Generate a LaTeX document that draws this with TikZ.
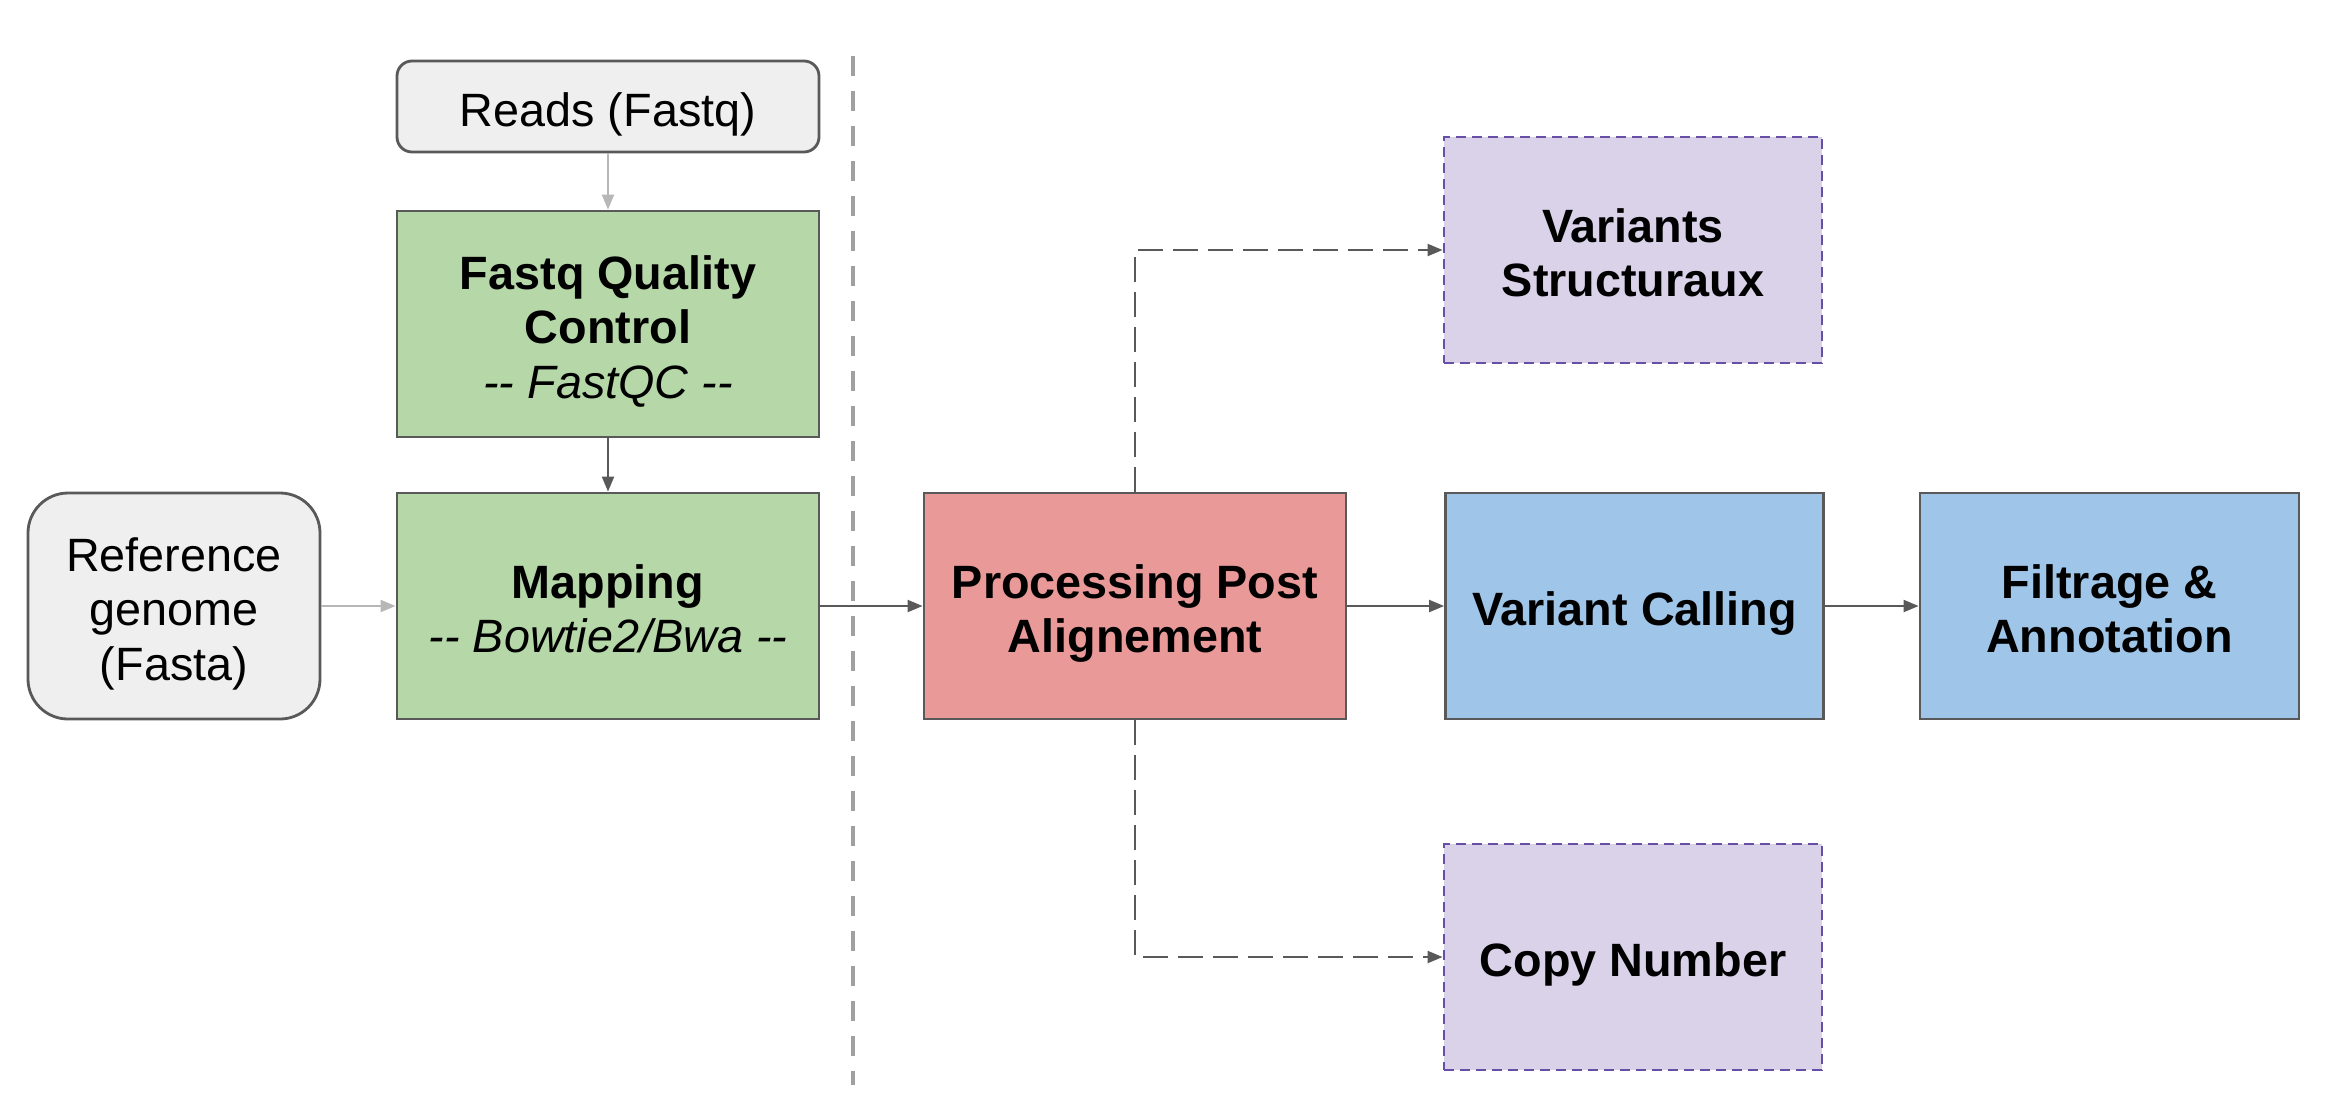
\documentclass[tikz,border=0pt]{standalone}
\usepackage{fontspec}
\setmainfont{Liberation Sans}
\usepackage{xcolor}
\usetikzlibrary{arrows.meta}

\definecolor{boxline}{HTML}{595959}
\definecolor{lightarrow}{HTML}{B7B7B7}
\definecolor{inputgray}{HTML}{EFEFEF}
\definecolor{stepgreen}{HTML}{B6D7A8}
\definecolor{postred}{HTML}{EA9999}
\definecolor{callblue}{HTML}{9FC5E8}
\definecolor{svfill}{HTML}{D9D2E9}
\definecolor{svline}{HTML}{674EA7}
\definecolor{sepgray}{HTML}{A0A0A0}

\newcommand{\boxfont}{\fontsize{13.3}{15.4}\selectfont}
% struts so that the caps sit in the middle of each box
\newcommand{\tp}{\rule{0pt}{1.06em}}
\newcommand{\bt}{\rule[-0.21em]{0pt}{0pt}}

\tikzset{
  box/.style={draw=boxline, line width=0.8pt, align=center, inner sep=0pt,
    font=\boxfont, minimum width=4.22cm, minimum height=2.26cm},
  inbox/.style={box, fill=inputgray, rounded corners=0.15cm},
  greenbox/.style={box, fill=stepgreen},
  redbox/.style={box, fill=postred, font=\boxfont\bfseries},
  bluebox/.style={box, fill=callblue, font=\boxfont\bfseries, minimum width=3.78cm},
  optbox/.style={box, draw=svline, fill=svfill, dash pattern=on 0.1cm off 0.06cm,
    font=\boxfont\bfseries, minimum width=3.78cm},
  flow/.style={draw=boxline, line width=0.6pt, -{Triangle[length=0.15cm, width=0.12cm]}},
  lightflow/.style={flow, draw=lightarrow, -{Triangle[length=0.15cm, width=0.12cm, fill=lightarrow]}},
  optflow/.style={flow, dash pattern=on 0.25cm off 0.1cm}
}

\begin{document}
\begin{tikzpicture}
  \useasboundingbox (0,0) rectangle (23.30,-11.02);
  % separator between pre-processing and analysis
  \draw[sepgray, line width=1.4pt, dash pattern=on 0.2cm off 0.15cm] (8.53,-0.56) -- (8.53,-10.85);

  % inputs
  \node[inbox, minimum height=0.91cm] (reads) at (6.08,-1.065) {\tp Reads (Fastq)\bt};
  \node[inbox, minimum width=2.92cm, rounded corners=0.4cm] (refgen) at (1.74,-6.06) {\tp Reference\\genome\\(Fasta)\bt};

  % pre-processing
  \node[greenbox] (qc) at (6.08,-3.24) {\tp\textbf{Fastq Quality}\\\textbf{Control}\\\textit{-{}- FastQC -{}-}\bt};
  \node[greenbox] (mapping) at (6.08,-6.06) {\tp\textbf{Mapping}\\\textit{-{}- Bowtie2/Bwa -{}-}\bt};

  % analysis
  \node[redbox] (ppa) at (11.35,-6.06) {\tp Processing Post\\Alignement\bt};
  \node[bluebox] (vcall) at (16.345,-6.06) {\tp Variant Calling\bt};
  \node[bluebox, minimum width=3.79cm] (filt) at (21.095,-6.06) {\tp Filtrage \&\\Annotation\bt};
  \node[optbox] (sv) at (16.33,-2.50) {\tp Variants\\Structuraux\bt};
  \node[optbox] (cn) at (16.33,-9.57) {\tp Copy Number\bt};

  \draw[lightflow] (reads) -- (qc);
  \draw[lightflow] (refgen) -- (mapping);
  \draw[flow] (qc) -- (mapping);
  \foreach \a/\b in {mapping/ppa, ppa/vcall, vcall/filt} {
    \draw[flow] (\a) -- (\b);
  }
  \draw[optflow] (ppa.north) |- (sv.west);
  \draw[optflow] (ppa.south) |- (cn.west);
\end{tikzpicture}
\end{document}
